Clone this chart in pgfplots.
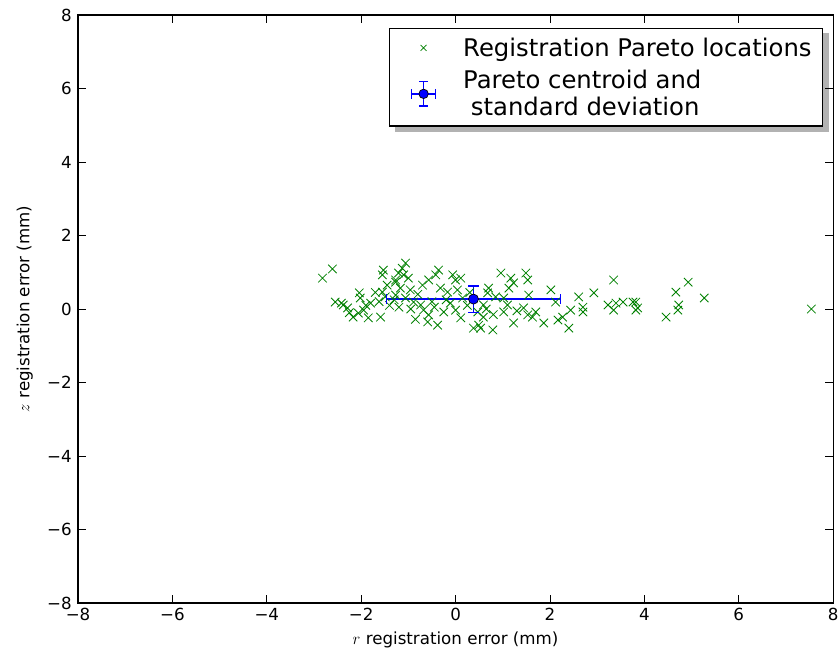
\documentclass[border=0pt]{standalone}
\usepackage{fontspec}
\setmainfont{DejaVu Sans}
\usepackage{pgfplots}
\pgfplotsset{compat=1.18}
\usetikzlibrary{backgrounds}
\definecolor{mplgreen}{rgb}{0,0.5,0}
\definecolor{mplblue}{rgb}{0,0,1}
\begin{document}
\begin{tikzpicture}
\begin{axis}[
  scale only axis,
  width=543.6pt, height=423.4pt,
  xmin=-8, xmax=8, ymin=-8, ymax=8,
  xtick={-8,-6,-4,-2,0,2,4,6,8},
  xticklabels={−8,−6,−4,−2,0,2,4,6,8},
  ytick={-8,-6,-4,-2,0,2,4,6,8},
  yticklabels={−8,−6,−4,−2,0,2,4,6,8},
  tick style={black, line width=0.6pt},
  major tick length=6pt,
  axis line style={line width=0.8pt},
  ticklabel style={font=\fontsize{12}{14}\selectfont},
  yticklabel style={xshift=-1pt},
  label style={font=\fontsize{12}{14}\selectfont},
  xlabel={$r$ registration error (mm)},
  ylabel={$z$ registration error (mm)},
  xlabel style={at={(axis description cs:0.5,-0.0628)}, anchor=center},
  ylabel style={at={(axis description cs:-0.0705,0.5)}, anchor=center},
  legend style={name=leg, at={(rel axis cs:0.987,0.978)}, anchor=north east,
    draw=black, line width=0.8pt, fill=white,
    font=\fontsize{17.5}{19.5}\selectfont,
    cells={align=left, anchor=west},
    inner xsep=6pt, inner ysep=4pt, row sep=4pt},
]
\addlegendimage{legend image code/.code={
  \path[draw=none, fill=none] (0cm,-0.35cm) rectangle (1.3cm,0.35cm);
  \draw[draw=mplgreen, line width=0.5pt] plot[mark=x, mark size=3pt, mark options={draw=mplgreen}] coordinates {(0.65cm,0cm)};}}
\addlegendentry{\hspace{8pt}Registration Pareto locations}
\addlegendimage{legend image code/.code={
  \path[draw=none, fill=none] (0cm,-0.35cm) rectangle (1.3cm,0.35cm);
  \draw[draw=mplblue, line width=1pt] (0.35cm,0cm) -- (0.95cm,0cm);
  \draw[draw=mplblue, line width=1pt] (0.35cm,-0.12cm) -- (0.35cm,0.12cm);
  \draw[draw=mplblue, line width=1pt] (0.95cm,-0.12cm) -- (0.95cm,0.12cm);
  \draw[draw=mplblue, line width=1pt] (0.65cm,-0.31cm) -- (0.65cm,0.31cm);
  \draw[draw=mplblue, line width=1pt] (0.54cm,-0.31cm) -- (0.76cm,-0.31cm);
  \draw[draw=mplblue, line width=1pt] (0.54cm,0.31cm) -- (0.76cm,0.31cm);
  \draw[draw=black, fill=mplblue, line width=0.5pt] (0.65cm,0cm) circle (3.4pt);}}
\addlegendentry{\hspace{8pt}Pareto centroid and\\\hspace{8pt}\hspace{0.32em}standard deviation}
\addplot[forget plot, only marks, mark=x, mark size=4.3pt, mplgreen, mark options={line width=0.6pt}] coordinates {
(-2.82,0.84) (-2.61,1.09) (-2.55,0.19) (-2.42,0.16) (-2.38,0.11) (-2.29,0.03)
(-2.04,0.44) (-2.02,0.30) (-2.17,-0.22) (-2.06,-0.11) (-1.95,-0.03) (-1.85,-0.24)
(-1.80,0.16) (-1.59,-0.22) (-1.53,1.06) (-1.55,0.93) (-1.55,0.46) (-1.49,0.33)
(-1.27,0.79) (-1.06,1.25) (-1.13,1.11) (-1.21,0.98) (-1.10,0.93) (-1.00,0.84)
(-1.27,0.73) (-1.17,0.57) (-0.96,0.52) (-1.27,0.38) (-1.06,0.30) (-0.89,0.19)
(-0.74,0.11) (-0.68,-0.03) (-0.57,-0.16) (-0.38,-0.44) (-0.59,-0.35) (-0.36,1.06)
(-0.42,0.93) (-0.57,0.79) (-0.06,0.93) (0.00,0.79) (0.11,0.84) (-0.32,0.57)
(-0.17,0.46) (0.04,0.52) (0.15,0.30) (-0.11,0.16) (-0.25,-0.08) (0.00,-0.03)
(0.11,-0.24) (0.38,-0.52) (0.96,0.98) (1.17,0.84) (1.49,0.98) (1.53,0.79)
(1.23,0.71) (1.13,0.57) (0.70,0.57) (0.68,0.44) (0.85,0.33) (1.02,0.30)
(1.55,0.38) (2.02,0.52) (1.10,0.11) (0.59,0.11) (0.47,-0.08) (0.59,-0.22)
(1.02,-0.08) (1.44,0.03) (1.53,-0.16) (1.70,-0.08) (1.63,-0.22) (1.87,-0.38)
(1.23,-0.38) (0.79,-0.57) (0.49,-0.44) (0.53,-0.52) (3.35,0.79) (2.93,0.44)
(2.12,0.19) (2.61,0.33) (2.70,0.05) (2.70,-0.08) (2.44,-0.03) (2.27,-0.22)
(2.17,-0.30) (2.40,-0.52) (3.23,0.11) (3.40,0.16) (3.55,0.19) (3.76,0.19)
(3.82,-0.03) (3.35,-0.03) (3.82,0.19) (3.86,0.03) (4.93,0.73) (4.67,0.46)
(5.27,0.30) (4.73,0.11) (4.71,-0.03) (4.46,-0.22) (7.54,0.00)
(-1.62,0.20) (-1.40,0.10) (-1.30,0.25) (-1.20,0.05) (-0.95,0.00) (-0.85,-0.28)
(-0.80,0.40) (-0.70,0.65) (-0.50,0.20) (-0.45,0.05) (-0.20,0.25) (0.25,0.10)
(0.30,0.45) (0.65,0.00) (0.80,-0.15) (1.30,-0.05) (-1.70,0.45) (-1.45,0.65)
(-2.25,-0.10) (-1.90,0.10)
};
% centroid standard deviation (x: 0.38 +- 1.85, z: 0.27 +- 0.36)
\addplot[forget plot, draw=mplblue, line width=1.1pt, mark=|, mark size=3.4pt,
  mark options={draw=mplblue, line width=1pt, solid}]
  coordinates {(-1.47,0.27) (2.23,0.27)};
\addplot[forget plot, draw=mplblue, line width=1.1pt, mark=-, mark size=3.8pt,
  mark options={draw=mplblue, line width=1pt, solid}]
  coordinates {(0.38,-0.09) (0.38,0.63)};
\addplot[forget plot, only marks, mark=*, mark size=3.6pt,
  mark options={fill=mplblue, draw=black, line width=0.5pt}]
  coordinates {(0.38,0.27)};
\end{axis}
\begin{pgfonlayer}{background}
\fill[black!30] ([shift={(4pt,-4pt)}]leg.south west) rectangle ([shift={(4pt,-4pt)}]leg.north east);
\end{pgfonlayer}
\pgfresetboundingbox
\useasboundingbox ([shift={(-56.2pt,-36.7pt)}]current axis.south west) rectangle ([shift={(5pt,10.8pt)}]current axis.north east);
\end{tikzpicture}
\end{document}
